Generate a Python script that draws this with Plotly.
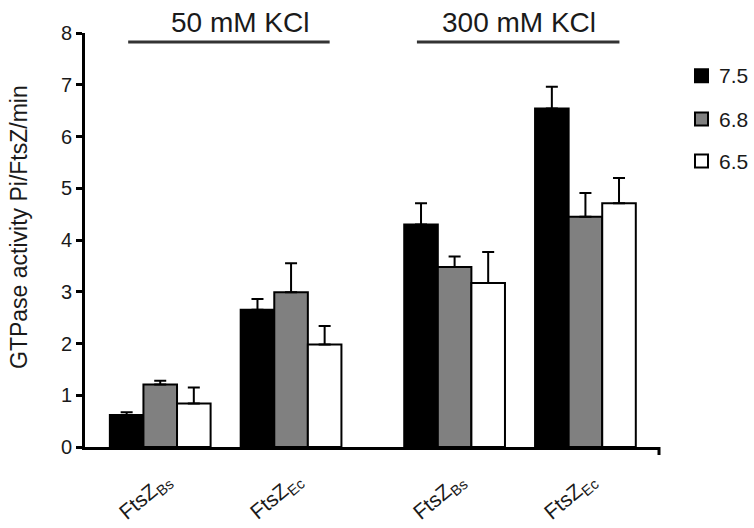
import plotly.graph_objects as go

# ---- data ----
x_pos = [0, 1, 2.25, 3.25]
tick_text = ["FtsZ<sub>Bs</sub>", "FtsZ<sub>Ec</sub>", "FtsZ<sub>Bs</sub>", "FtsZ<sub>Ec</sub>"]
series_names = ["7.5", "6.8", "6.5"]
vals_75 = [0.62, 2.65, 4.30, 6.54]
vals_68 = [1.21, 2.99, 3.48, 4.45]
vals_65 = [0.84, 1.98, 3.17, 4.71]
err_75 = [0.05, 0.21, 0.41, 0.42]
err_68 = [0.07, 0.56, 0.20, 0.46]
err_65 = [0.31, 0.36, 0.60, 0.49]
fills = ["#000000", "#808080", "#ffffff"]
group_labels = ["50 mM KCl", "300 mM KCl"]
group_label_x = [0.613, 2.74]
group_line_x = [(-0.245, 1.295), (1.962, 3.51)]

FONT = "Liberation Sans, Arial, sans-serif"
TXT = "#1a1a1a"

W, H = 754, 528
L, R, T, B = 85, 94, 33, 81
PW, PH = W - L - R, H - T - B


def px_x(p):
    return (p - L) / PW


def px_y(p):
    return (H - B - p) / PH


fig = go.Figure()
for name, vals, errs, fc in zip(series_names, [vals_75, vals_68, vals_65],
                                [err_75, err_68, err_65], fills):
    fig.add_trace(go.Bar(
        x=x_pos, y=vals, name=name, showlegend=False,
        marker=dict(color=fc, line=dict(color="black", width=2)),
        error_y=dict(type="data", array=errs, arrayminus=[0] * len(errs),
                     symmetric=False, color="black", thickness=2, width=6),
    ))

# slanted category labels
for xv, lab in zip(x_pos, tick_text):
    fig.add_annotation(x=xv, xref="x", xshift=-15, y=px_y(497), yref="paper",
                       text=lab, textangle=-40, showarrow=False,
                       xanchor="center", yanchor="middle",
                       font=dict(family=FONT, size=21, color=TXT))

# legend drawn as shapes + text
legend_y = [75.7, 119, 161]
for name, fc, ly in zip(series_names, fills, legend_y):
    fig.add_shape(type="rect", xref="paper", yref="paper",
                  x0=px_x(695), x1=px_x(708), y0=px_y(ly + 6.5), y1=px_y(ly - 6.5),
                  fillcolor=fc, line=dict(color="black", width=2))
    fig.add_annotation(x=px_x(717), xref="paper", y=px_y(ly), yref="paper",
                       text=name, showarrow=False, xanchor="left", yanchor="middle",
                       font=dict(family=FONT, size=21, color=TXT))

# group header lines and labels
for (x0, x1), lab, lx in zip(group_line_x, group_labels, group_label_x):
    fig.add_shape(type="line", xref="x", yref="paper", x0=x0, x1=x1,
                  y0=px_y(42), y1=px_y(42), line=dict(color="#333333", width=3))
    fig.add_annotation(x=lx, xref="x", y=px_y(23), yref="paper", text=lab,
                       showarrow=False, yanchor="middle", xanchor="center",
                       font=dict(family=FONT, size=28, color=TXT))

# small tick at right end of x axis
fig.add_shape(type="line", xref="paper", yref="paper", x0=px_x(659), x1=px_x(659),
              y0=0, y1=px_y(455), line=dict(color="black", width=3))

# y axis title as annotation
fig.add_annotation(x=px_x(18.5), xref="paper", y=px_y(227.5), yref="paper",
                   text="GTPase activity Pi/FtsZ/min", textangle=-90,
                   showarrow=False, xanchor="center", yanchor="middle",
                   font=dict(family=FONT, size=23, color=TXT))

fig.update_layout(
    width=W, height=H,
    margin=dict(l=L, r=R, t=T, b=B, autoexpand=False),
    paper_bgcolor="white", plot_bgcolor="white",
    barmode="group", bargap=0.23, bargroupgap=0,
    font=dict(family=FONT, color=TXT),
    showlegend=False,
    xaxis=dict(range=[-0.575, 3.82], tickvals=x_pos, showticklabels=False,
               ticks="", showline=True, linecolor="black",
               linewidth=3, showgrid=False, zeroline=False, automargin=False),
    yaxis=dict(range=[0, 8], dtick=1, ticks="outside", ticklen=6, tickwidth=3,
               tickcolor="black", showline=True, linecolor="black", linewidth=3,
               showgrid=False, zeroline=False, automargin=False,
               tickfont=dict(family=FONT, size=20, color=TXT)),
)

fig.write_html("out.html", config={"displayModeBar": False},
               post_script="document.body.style.margin='0px';")
